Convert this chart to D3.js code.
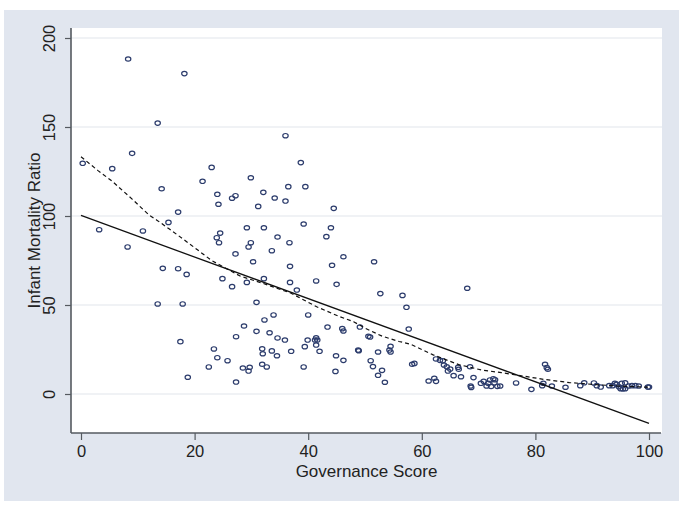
<!DOCTYPE html>
<html><head><meta charset="utf-8">
<script src="https://cdn.jsdelivr.net/npm/d3@7"></script>
<style>html,body{margin:0;padding:0;background:#fff;}svg{display:block;font-family:"Liberation Sans",Arial,sans-serif;}</style>
</head><body>
<svg id="c" width="685" height="513"></svg>
<script>
// Governance score (x) and infant mortality ratio (y) for each country
const govScore = [8.3,18.2,13.5,0.3,5.5,9.0,14.2,21.4,23.0,24.0,24.2,26.6,27.2,15.4,17.1,3.2,10.9,24.5,23.9,24.3,8.2,27.2,14.4,17.1,18.6,24.9,26.6,13.5,17.9,17.5,27.3,23.4,24.0,25.8,22.5,18.8,27.3,
36.0,38.7,29.9,36.5,39.5,32.1,34.1,36.0,31.2,44.5,29.2,32.2,39.2,44.0,34.6,43.2,29.5,29.9,36.7,33.6,46.2,30.3,36.8,44.2,29.2,32.2,36.8,41.4,45.0,38.0,30.9,33.9,32.3,40.0,28.7,30.9,33.2,43.4,46.0,46.2,34.6,35.9,39.9,41.4,41.6,41.2,39.4,41.4,31.9,32.0,33.6,34.5,37.0,42.0,44.9,46.2,48.8,31.9,32.7,28.5,29.7,29.5,39.2,44.8,
51.6,52.7,56.6,57.3,68.0,57.7,49.1,50.9,50.6,48.9,52.3,54.5,54.5,54.3,51.0,51.4,53.0,52.3,53.5,58.3,58.7,62.5,63.2,63.7,63.9,64.4,65.0,64.6,61.2,62.2,62.5,65.6,66.4,66.5,68.5,66.9,69.1,68.6,68.7,
70.4,70.9,71.4,71.7,72.0,72.6,72.9,72.8,72.2,73.3,73.8,81.7,82.0,82.2,76.6,79.3,81.2,81.4,82.9,85.3,87.9,88.6,90.3,90.8,91.5,93.0,93.6,94.0,94.3,94.7,95.0,95.4,95.8,95.2,95.8,96.4,97.0,97.6,98.2,99.8,100.0];
const mortality = [188.2,180.0,152.2,129.6,126.6,135.2,115.3,119.5,127.3,112.2,106.6,110.0,111.4,96.4,102.2,92.3,91.6,90.4,87.8,85.0,82.6,78.7,70.6,70.4,67.2,64.8,60.3,50.6,50.6,29.4,32.2,25.3,20.4,18.7,15.2,9.4,6.7,
145.1,130.0,121.5,116.5,116.5,113.3,110.1,108.4,105.4,104.3,93.4,93.4,95.5,93.4,88.2,88.4,82.6,85.0,85.0,80.5,77.1,74.3,71.7,72.3,62.7,64.8,62.7,63.5,61.6,58.4,51.5,44.4,41.6,44.4,38.2,35.2,34.4,37.6,36.7,35.4,31.5,30.3,30.3,31.6,30.3,30.3,26.6,27.5,25.4,22.6,24.2,21.5,24.0,24.0,21.5,18.9,24.7,16.7,15.2,14.6,15.0,12.9,15.2,12.7,
74.3,56.4,55.4,48.7,59.4,36.5,37.6,32.0,32.4,24.3,23.6,26.8,23.6,24.7,18.7,15.4,13.3,10.5,6.6,16.7,17.2,19.7,18.9,18.7,16.3,15.3,14.0,12.9,7.3,8.8,7.1,10.3,15.0,13.9,15.3,9.7,9.2,4.5,3.7,
6.0,7.1,4.5,6.0,7.9,8.6,8.0,6.3,4.2,4.3,4.5,16.7,14.8,13.9,6.2,2.6,4.7,6.0,4.5,3.8,4.7,6.3,6.2,4.7,3.9,4.7,4.7,6.0,5.4,4.1,3.0,2.8,3.0,6.0,6.3,4.5,4.7,4.7,4.5,3.9,3.9];

// Linear fit: intercept and slope
const fitIntercept = 100.3;
const fitSlope = -1.168;
const fitX = [0, 100];

// Lowess curve
const lowessX = [0,3,5.5,9,12,13.3,15.5,18,20.5,23,25,28,32,37,41.5,45.5,48,50,53,56,58,62,66.5,70.5,74,76,78,81.5,86,91.5,94.5,100];
const lowessY = [133.3,125.5,119.5,109.5,100.5,97.8,92.8,87,81,75,71.5,66.3,62.2,56.6,49,43.5,40.6,37,32.5,29.5,28,22,16.5,13.5,12,11,10,8.2,6.4,5.1,4.5,3.8];

const xTicks = [0,20,40,60,80,100];
const yTicks = [0,50,100,150,200];
const xTitle = "Governance Score";
const yTitle = "Infant Mortality Ratio";

const svg = d3.select("#c");
const outer = {x0:4, y0:10, x1:679, y1:501};
const plot = {x0:71, y0:28, x1:662, y1:433};

svg.append("rect").attr("x",outer.x0).attr("y",outer.y0)
  .attr("width",outer.x1-outer.x0).attr("height",outer.y1-outer.y0).attr("fill","#e1e6ef");
svg.append("rect").attr("x",plot.x0).attr("y",plot.y0)
  .attr("width",plot.x1-plot.x0).attr("height",plot.y1-plot.y0).attr("fill","#ffffff");

const x = d3.scaleLinear().domain([0,100]).range([81,649]);
const y = d3.scaleLinear().domain([0,200]).range([394,38]);

// gridlines
svg.append("g").selectAll("line").data(yTicks).join("line")
  .attr("x1",plot.x0).attr("x2",plot.x1)
  .attr("y1",d=>y(d)).attr("y2",d=>y(d))
  .attr("stroke","#e2e6ec").attr("stroke-width",1.2);

// axes
const axCol = "#555a60";
const gx = svg.append("g").attr("transform",`translate(0,${plot.y1})`)
  .call(d3.axisBottom(x).tickValues(xTicks).tickSize(7).tickPadding(5).tickFormat(d3.format("d")));
gx.select(".domain").remove();
gx.selectAll(".tick line").attr("stroke",axCol).attr("stroke-width",1.2);
gx.selectAll(".tick text").attr("font-size","16.5px").attr("fill","#222").attr("font-family","Liberation Sans, Arial, sans-serif");
svg.append("line").attr("x1",plot.x0).attr("x2",plot.x1-1).attr("y1",plot.y1).attr("y2",plot.y1)
  .attr("stroke",axCol).attr("stroke-width",1.6);

const gy = svg.append("g").attr("transform",`translate(${plot.x0},0)`)
  .call(d3.axisLeft(y).tickValues(yTicks).tickSize(6).tickFormat(d3.format("d")));
gy.select(".domain").remove();
gy.selectAll(".tick line").attr("stroke",axCol).attr("stroke-width",1.2);
gy.selectAll(".tick text")
  .attr("x",null).attr("dy",null)
  .attr("transform","translate(-16,0) rotate(-90)")
  .attr("text-anchor","middle")
  .attr("font-size","16.5px").attr("fill","#222").attr("font-family","Liberation Sans, Arial, sans-serif");
svg.append("line").attr("x1",plot.x0).attr("x2",plot.x0).attr("y1",plot.y0).attr("y2",plot.y1)
  .attr("stroke",axCol).attr("stroke-width",1.6);

// titles
svg.append("text").attr("x",(plot.x0+plot.x1)/2).attr("y",477)
  .attr("text-anchor","middle").attr("font-size","17px").attr("fill","#222").text(xTitle);
svg.append("text").attr("transform",`translate(40,${(plot.y0+plot.y1)/2}) rotate(-90)`)
  .attr("text-anchor","middle").attr("font-size","17px").attr("fill","#222").text(yTitle);

// scatter points
const pts = govScore.map((g,i)=>({g, m: mortality[i]}));
svg.append("g").selectAll("ellipse").data(pts).join("ellipse")
  .attr("cx",d=>x(d.g)).attr("cy",d=>y(d.m))
  .attr("rx",2.7).attr("ry",2.2)
  .attr("fill","none").attr("stroke","#2c3c6c").attr("stroke-width",1.2);

// linear fit
const line = d3.line().x(d=>x(d[0])).y(d=>y(d[1]));
svg.append("path").datum(fitX.map(v=>[v, fitIntercept + fitSlope*v]))
  .attr("d",line).attr("fill","none").attr("stroke","#111").attr("stroke-width",1.3);

// lowess
svg.append("path").datum(lowessX.map((v,i)=>[v, lowessY[i]]))
  .attr("d",line).attr("fill","none").attr("stroke","#111").attr("stroke-width",1.2)
  .attr("stroke-dasharray","4,3");
</script>
</body></html>
